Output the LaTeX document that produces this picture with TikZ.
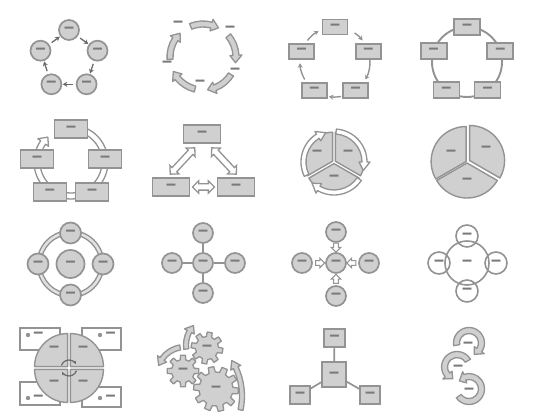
\documentclass[tikz,border=0pt]{standalone}
\usepackage{fontspec}
\newfontfamily\dashfont{DejaVu Sans}
\usetikzlibrary{calc,arrows.meta,shapes.arrows}
\definecolor{fc}{HTML}{D0D0D0}
\definecolor{sc}{HTML}{939393}
\definecolor{dc}{HTML}{7A7A7A}
\definecolor{ac}{HTML}{6A6A6A}
\definecolor{rc}{HTML}{E2E2E2}
\newcommand\dsh{\scalebox{1.25}[2]{—}}
\tikzset{
 lf/.style={text=dc, font=\dashfont\bfseries\fontsize{8}{8}\selectfont},
 lab/.style={lf, inner sep=0},
 gc/.style={circle, draw=sc, fill=fc, line width=1.7pt, minimum size=20pt, inner sep=0, lf},
 oc/.style={circle, draw=sc, line width=1.6pt, minimum size=22pt, inner sep=0, lf},
 gr/.style={rectangle, draw=sc, fill=fc, line width=1.7pt, inner sep=0, lf},
 wr/.style={rectangle, draw=sc, fill=white, line width=1.6pt, inner sep=0},
 smarr/.style={draw=ac, line width=1.3pt, -{Stealth[length=4.5pt,width=5pt]}, shorten <=3pt, shorten >=0.5pt},
 thinarr/.style={draw=sc, line width=1.4pt, -{Stealth[length=4.5pt,width=5pt]}},
 conn/.style={draw=sc, line width=1.7pt},
 gband/.style={draw=sc, fill=fc, line width=1.3pt, line join=round},
 wband/.style={draw=sc, fill=white, line width=1.3pt, line join=round},
 pie/.style={draw=sc, fill=fc, line width=1.4pt, line join=round},
 darr/.style={double arrow, draw=sc, fill=white, line width=1.3pt, inner sep=2.5pt, double arrow head extend=3pt},
 sarr/.style={single arrow, draw=sc, fill=white, line width=1.1pt, inner sep=1.8pt, minimum height=9pt, single arrow head extend=2.5pt},
 carr/.style={draw=ac, line width=1.2pt, -{Stealth[length=3pt,width=3.5pt]}},
 gear/.style={draw=sc, fill=fc, line width=1.3pt, line join=round},
}
% curved block arrow: [style]{cx,cy}{R}{start}{end}{half width}{head half width}{head angle (signed)}
\newcommand\CArrow[8][]{%
 \pgfmathsetmacro\caE{#5-(#8)}%
 \pgfmathsetmacro\caRo{#3+#6}%
 \pgfmathsetmacro\caRi{#3-#6}%
 \pgfmathsetmacro\caHo{#3+#7}%
 \pgfmathsetmacro\caHi{#3-#7}%
 \draw[#1] ($(#2)+(#4:\caRo)$) arc[start angle=#4, end angle=\caE, radius=\caRo]
   -- ($(#2)+(\caE:\caHo)$) -- ($(#2)+(#5:#3)$) -- ($(#2)+(\caE:\caHi)$)
   -- ($(#2)+(\caE:\caRi)$) arc[start angle=\caE, end angle=#4, radius=\caRi] -- cycle;}
% gear: {cx,cy}{teeth}{inner r}{outer r}{rotation}
\newcommand\Gear[5]{%
 \pgfmathsetmacro\gstep{360/#2}%
 \pgfmathsetmacro\gtw{\gstep*0.2}%
 \pgfmathsetmacro\gbw{\gstep*0.3}%
 \pgfmathsetmacro\gst{#5+\gstep-\gbw}%
 \draw[gear] ($(#1)+(\gst:#3)$) \foreach \i in {1,...,#2} {
   -- ($(#1)+(#5+\i*\gstep-\gbw:#3)$) -- ($(#1)+(#5+\i*\gstep-\gtw:#4)$)
   -- ($(#1)+(#5+\i*\gstep+\gtw:#4)$) -- ($(#1)+(#5+\i*\gstep+\gbw:#3)$) } -- cycle;}
\begin{document}
\begin{tikzpicture}[x=1pt,y=-1pt]
\useasboundingbox[fill=white] (0,0) rectangle (539,419);

% ---- cell 1: basic cycle
\node[gc] (a1) at (69,30) {\dsh};
\node[gc] (a2) at (97.5,50.7) {\dsh};
\node[gc] (a3) at (86.6,84.3) {\dsh};
\node[gc] (a4) at (51.4,84.3) {\dsh};
\node[gc] (a5) at (40.5,50.7) {\dsh};
\foreach \p/\q in {a1/a2,a2/a3,a3/a4,a4/a5,a5/a1} \draw[smarr] (\p) -- (\q);

% ---- cell 2: continuous arrows
\coordinate (b0) at (203,57);
\foreach \s in {-112,-40,32,104,176} {
 \pgfmathsetmacro\ee{\s+50}
 \CArrow[gband]{203,57}{33}{\s}{\ee}{3}{6}{13}
}
\node[lab] (b1) at (178,24) {\dsh};
\node[lab] (b2) at (230,29) {\dsh};
\node[lab] (b3) at (235,71) {\dsh};
\node[lab] (b4) at (200,83) {\dsh};
\node[lab] (b5) at (167,64) {\dsh};

% ---- cell 3: rect cycle with arrows
\coordinate (c0) at (335,62);
\foreach \n/\x/\y in {c1/335/27, c2/368.3/51.2, c3/355.6/90.3, c4/314.4/90.3, c5/301.7/51.2}
 \node[gr, minimum width=25pt, minimum height=15pt] (\n) at (\x,\y) {\dsh};
\foreach \a/\b in {-56/-38, -3/30, 80/100, 150/178, 218/242}
 \draw[thinarr] ($(c0)+(\a:35)$) arc[start angle=\a, end angle=\b, radius=35];

% ---- cell 4: rect cycle on circle
\coordinate (d0) at (467,62);
\draw[sc, line width=1.9pt] (d0) circle[radius=35];
\foreach \n/\x/\y in {d1/467/27, d2/500.3/51.2, d3/487.6/90.3, d4/446.4/90.3, d5/433.7/51.2}
 \node[gr, minimum width=26pt, minimum height=16pt] (\n) at (\x,\y) {\dsh};

% ---- cell 5: ring arrow with rects
\CArrow[wband]{71,162}{34}{-70}{227}{3}{6.5}{12}
\foreach \n/\x/\y in {e1/71/129, e2/105/159, e3/92/192, e4/50/192, e5/37/159}
 \node[gr, minimum width=33pt, minimum height=18pt] (\n) at (\x,\y) {\dsh};

% ---- cell 6: triangle with double arrows
\node[gr, minimum width=37pt, minimum height=18pt] (f1) at (202,134) {\dsh};
\node[gr, minimum width=37pt, minimum height=18pt] (f2) at (171,187) {\dsh};
\node[gr, minimum width=37pt, minimum height=18pt] (f3) at (236,187) {\dsh};
\node[darr, minimum height=36pt, rotate=47] (f4) at (182.5,161) {};
\node[darr, minimum height=36pt, rotate=-47] (f5) at (224,161) {};
\node[darr, minimum height=22pt] (f6) at (203.5,187) {};

% ---- cell 7: segmented cycle
\coordinate (g0) at (334,162);
\foreach \a/\b/\m in {-90/30/-30, 30/150/90, 150/270/210}
 \draw[pie] ($(g0)+(\m:1.6)$) -- +(\a:29) arc[start angle=\a, end angle=\b, radius=29] -- cycle;
\CArrow[wband]{334,162}{30.5}{154}{254}{2.5}{5.5}{16}
\CArrow[wband]{334,162}{30.5}{-86}{16}{2.5}{5.5}{16}
\CArrow[wband]{334,162}{30.5}{34}{136}{2.5}{5.5}{16}
\node[lab] (g1) at (317,153) {\dsh};
\node[lab] (g2) at (348,153) {\dsh};
\node[lab] (g3) at (334,178) {\dsh};

% ---- cell 8: pie
\coordinate (h0) at (467,162);
\draw[pie] ($(h0)+(-30:3)$) -- +(-90:35) arc[start angle=-90, end angle=30, radius=35] -- cycle;
\draw[pie] ($(h0)+(90:1)$) -- +(30:35) arc[start angle=30, end angle=150, radius=35] -- cycle;
\draw[pie] ($(h0)+(210:1)$) -- +(150:35) arc[start angle=150, end angle=270, radius=35] -- cycle;
\node[lab] (h1) at (451,153) {\dsh};
\node[lab] (h2) at (486,149) {\dsh};
\node[lab] (h3) at (467,181) {\dsh};

% ---- cell 9: circles on ring
\coordinate (i0) at (70.5,264);
\path[draw=sc, fill=rc, line width=1.3pt, even odd rule] (i0) circle[radius=33.5] (i0) circle[radius=29.5];
\node[gc, minimum size=28pt] (i5) at (i0) {\dsh};
\node[gc, minimum size=21pt] (i1) at (70.5,233) {\dsh};
\node[gc, minimum size=21pt] (i2) at (103,264) {\dsh};
\node[gc, minimum size=21pt] (i3) at (70.5,295) {\dsh};
\node[gc, minimum size=21pt] (i4) at (38,264) {\dsh};

% ---- cell 10: radial
\node[gc] (j0) at (203,263) {\dsh};
\node[gc] (j1) at (203,233) {\dsh};
\node[gc] (j2) at (235,263) {\dsh};
\node[gc] (j3) at (203,293) {\dsh};
\node[gc] (j4) at (172,263) {\dsh};
\foreach \q in {j1,j2,j3,j4} \draw[conn] (j0) -- (\q);

% ---- cell 11: converging arrows
\node[gc] (k0) at (336,263) {\dsh};
\node[gc] (k1) at (336,232) {\dsh};
\node[gc] (k2) at (369,263) {\dsh};
\node[gc] (k3) at (336,296) {\dsh};
\node[gc] (k4) at (302,263) {\dsh};
\node[sarr, rotate=-90] (k5) at (336,246.5) {};
\node[sarr, rotate=180] (k6) at (352.5,263) {};
\node[sarr, rotate=90] (k7) at (336,280) {};
\node[sarr] (k8) at (319,263) {};

% ---- cell 12: venn-like
\node[oc, minimum size=44pt] (l0) at (467,263) {\dsh};
\node[oc] (l1) at (467,236) {\dsh};
\node[oc] (l2) at (496,263) {\dsh};
\node[oc] (l3) at (467,291) {\dsh};
\node[oc] (l4) at (439,263) {\dsh};

% ---- cell 13: quadrant circle with rects
\node[wr, minimum width=40pt, minimum height=22pt] (m1) at (40,339) {};
\node[wr, minimum width=39pt, minimum height=22pt] (m2) at (101.5,339) {};
\node[wr, minimum width=40pt, minimum height=23pt] (m3) at (40,393.5) {};
\node[wr, minimum width=39pt, minimum height=20pt] (m4) at (101.5,397) {};
\foreach \x/\y in {28/335, 100/335, 28/398, 100/398} \fill[sc] (\x,\y) circle[radius=2.2];
\node[lab] (m5) at (38.5,335) {\dsh};
\node[lab] (m6) at (110.5,335) {\dsh};
\node[lab] (m7) at (38.5,398) {\dsh};
\node[lab] (m8) at (110.5,398) {\dsh};
\coordinate (m0) at (69,368);
\foreach \a/\b/\m in {180/270/225, 270/360/315, 0/90/45, 90/180/135}
 \draw[pie] ($(m0)+(\m:2)$) -- +(\a:33) arc[start angle=\a, end angle=\b, radius=33] -- cycle;
\node[lab] (m9) at (54,349) {\dsh};
\node[lab] (m10) at (83,349) {\dsh};
\node[lab] (m11) at (54,383) {\dsh};
\node[lab] (m12) at (83,383) {\dsh};
\draw[carr] ($(m0)+(200:8)$) arc[start angle=200, end angle=330, radius=8];
\draw[carr] ($(m0)+(20:8)$) arc[start angle=20, end angle=150, radius=8];

% ---- cell 14: gears
\Gear{207,348}{8}{11.5}{16}{10}
\Gear{183,371}{8}{11.5}{16}{0}
\Gear{216,389}{10}{17}{22.5}{5}
\node[lab] (n1) at (207,348) {\dsh};
\node[lab] (n2) at (183,371) {\dsh};
\node[lab] (n3) at (216,389) {\dsh};
\CArrow[gband]{185,375}{28}{-100}{-160}{2.5}{5.5}{-15}
\CArrow[gband]{215,345}{29}{172}{222}{2.5}{5.5}{14}
\CArrow[gband]{175,396}{67}{12}{-32}{2.5}{5.5}{-7}

% ---- cell 15: hub with squares
\node[gr, minimum width=24pt, minimum height=25pt] (o0) at (334,374.5) {\dsh};
\node[gr, minimum width=21pt, minimum height=18pt] (o1) at (334.5,338) {\dsh};
\node[gr, minimum width=20pt, minimum height=18pt] (o2) at (300,395) {\dsh};
\node[gr, minimum width=20pt, minimum height=18pt] (o3) at (370,395) {\dsh};
\foreach \q in {o1,o2,o3} \draw[conn] (o0) -- (\q);

% ---- cell 16: stacked circular arrows
\CArrow[gband]{469,343}{12.5}{170}{425}{3}{6}{30}
\CArrow[gband]{469,389}{12.5}{145}{-140}{3}{6}{-30}
\CArrow[gband]{457,367}{12.5}{-30}{-250}{3}{6}{-30}
\node[lab] (p1) at (468,345) {\dsh};
\node[lab] (p2) at (458,368) {\dsh};
\node[lab] (p3) at (469,391) {\dsh};
\end{tikzpicture}
\end{document}
